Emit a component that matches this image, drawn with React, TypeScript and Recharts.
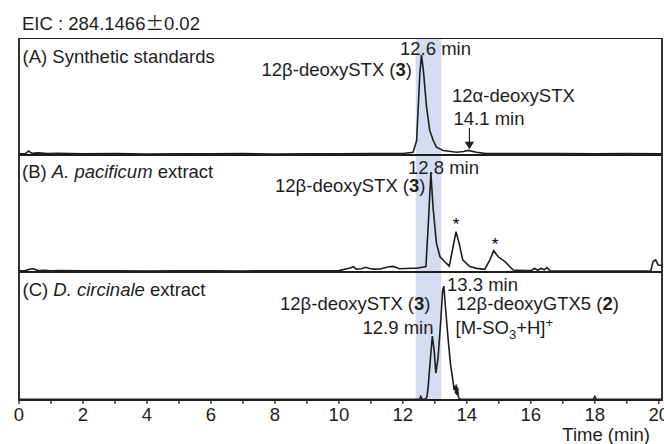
import React from 'react';
import { LineChart, Line, XAxis, YAxis, ReferenceArea, ReferenceLine, ReferenceDot } from 'recharts';

// (A) synthetic standards, relative intensity 0-100 of the panel height
const aTime = [0, 0.2, 0.3, 0.4, 0.6, 0.9, 1.2, 2, 3, 4, 5, 6, 7, 8, 9, 10, 11, 11.5, 12, 12.32, 12.43, 12.48, 12.53, 12.58, 12.64, 12.74, 12.84, 12.95, 13.05, 13.26, 13.68, 13.9, 14.04, 14.3, 14.6, 15, 16, 17, 18, 19, 20.1];
const aSignal = [1, 1.2, 3.5, 1.4, 1.8, 1.2, 1.5, 1, 1.2, 0.9, 1.1, 1, 1.2, 0.9, 1.1, 1, 1.2, 1.3, 1.3, 2.4, 12.4, 41, 69, 85.4, 72.5, 41, 21, 12.4, 6.7, 3.9, 2.4, 3, 3.9, 2.4, 1.2, 1.3, 1.2, 1.3, 1.1, 1.2, 1];

// (B) A. pacificum extract
const bTime = [0, 0.2, 0.35, 0.45, 0.6, 0.8, 1.0, 1.3, 2, 3, 4, 5, 6, 7, 8, 9, 10, 10.35, 10.45, 10.55, 10.7, 10.85, 10.95, 11.1, 11.3, 11.55, 11.7, 11.9, 12.1, 12.3, 12.43, 12.72, 12.79, 12.875, 12.95, 13.05, 13.16, 13.31, 13.45, 13.55, 13.66, 13.76, 13.87, 14.09, 14.3, 14.56, 14.72, 14.84, 14.98, 15.19, 15.45, 15.8, 16.02, 16.12, 16.22, 16.32, 16.42, 16.5, 16.6, 17, 18, 19, 19.75, 19.82, 19.9, 19.98, 20.1];
const bSignal = [1, 1.2, 2.5, 2.8, 1.2, 1.5, 1, 1.3, 1, 1.1, 0.9, 1, 1.1, 0.9, 1, 1.1, 1.2, 3.5, 4.5, 2.5, 2.8, 4, 3, 2.5, 2.6, 4.5, 4.8, 2.8, 3, 3.2, 3.2, 4.6, 38.7, 84.3, 53, 24.5, 13, 8.8, 5.1, 18.8, 34.5, 24.5, 10.3, 4.6, 3.1, 2.3, 10.3, 18.2, 13, 8.8, 1.7, 1.2, 1.5, 3, 1.5, 3.2, 1.8, 3.7, 1, 0.8, 0.8, 0.8, 1, 9, 10.3, 6, 5.5];

// (C) D. circinale extract
const cTime = [0, 2, 4, 6, 8, 10, 12, 12.52, 12.56, 12.6, 12.68, 12.75, 12.79, 12.82, 12.87, 12.92, 12.98, 13.03, 13.1, 13.19, 13.24, 13.28, 13.34, 13.42, 13.49, 13.57, 13.6, 13.63, 13.65, 13.67, 13.69, 13.71, 13.73, 13.76, 13.82, 14, 16, 17.95, 18.0, 18.05, 20.1];
const cSignal = [0.6, 0.6, 0.5, 0.6, 0.5, 0.6, 0.6, 0.6, 2.8, 0.6, 0.5, 2, 10, 19.7, 35, 50, 38, 21, 33, 64, 85, 89, 69.5, 46, 27.6, 14.4, 7.9, 11, 5, 12, 4, 10, 3, 1, 0.6, 0.5, 0.5, 0.5, 2.8, 0.5, 0.5];

const xTicks = [0, 1, 2, 3, 4, 5, 6, 7, 8, 9, 10, 11, 12, 13, 14, 15, 16, 17, 18, 19, 20];

const FONT = '"Liberation Sans", Arial, Helvetica, sans-serif';
const INK = '#1e1e1e';
const BAND = '#d5dcef';
const X_MAX = 20.1;
const FS = 18.5;
const MARGIN = { top: 0, right: 2, bottom: 0, left: 19 };

const toRows = (time: number[], signal: number[]) => time.map((t, i) => ({ t, v: signal[i] }));

interface PanelProps {
  rows: { t: number; v: number }[];
  top: number;
  height: number;
  showAxis?: boolean;
  children?: React.ReactNode;
}

const Panel = ({ rows, top, height, showAxis = false, children }: PanelProps) => (
  <div style={{ position: 'absolute', left: 0, top }}>
    <LineChart width={664} height={height} data={rows} margin={MARGIN}>
      <XAxis
        type="number"
        dataKey="t"
        domain={[0, X_MAX]}
        hide={!showAxis}
        ticks={xTicks}
        interval={0}
        height={44}
        axisLine={false}
        tickSize={4}
        tickMargin={4}
        tickLine={{ stroke: INK, strokeWidth: 1.2 }}
        tick={{ fill: INK, fontSize: FS, fontFamily: FONT }}
        tickFormatter={(v: number) => (v % 2 === 0 ? String(v) : '')}
      />
      <YAxis type="number" domain={[0, 100]} hide />
      <ReferenceArea x1={12.4} x2={13.2} fill={BAND} fillOpacity={1} stroke="none" />
      <Line
        type="linear"
        dataKey="v"
        stroke={INK}
        strokeWidth={1.6}
        dot={false}
        isAnimationActive={false}
      />
      {children}
      <ReferenceArea x1={0} x2={X_MAX} y1={0} y2={100} fill="none" stroke={INK} strokeWidth={1.8} />
    </LineChart>
  </div>
);

const arrowHead = (props: any) => {
  const { cx, cy } = props;
  return <polygon points={`${cx - 4.7},${cy - 7.6} ${cx + 4.7},${cy - 7.6} ${cx},${cy}`} fill={INK} />;
};

export default function App() {
  return (
    <div style={{ position: 'absolute', left: 0, top: 0, width: 664, height: 444, background: '#fff', fontFamily: FONT }}>
      <Panel rows={toRows(aTime, aSignal)} top={38} height={117}>
        <ReferenceLine segment={[{ x: 14.08, y: 23 }, { x: 14.08, y: 10 }]} stroke={INK} strokeWidth={1.2} />
        <ReferenceDot x={14.08} y={4.9} r={0} shape={arrowHead} />
      </Panel>
      <Panel rows={toRows(bTime, bSignal)} top={155} height={117} />
      <Panel rows={toRows(cTime, cSignal)} top={272} height={172} showAxis />

      <svg width={664} height={444} style={{ position: 'absolute', left: 0, top: 0, pointerEvents: 'none' }} fontFamily={FONT} fontSize={FS} fill={INK}>
        <text x={22} y={29.5}>
          EIC : 284.1466<tspan fontFamily='"Noto Sans CJK JP"'>±</tspan>0.02
        </text>

        <text x={22.5} y={63}>(A) Synthetic standards</text>
        <text x={400} y={55}>12.6 min</text>
        <text x={412} y={76} textAnchor="end">
          12β-deoxySTX (<tspan fontWeight="bold">3</tspan>)
        </text>
        <text x={452} y={102}>12α-deoxySTX</text>
        <text x={453.5} y={125}>14.1 min</text>

        <text x={22} y={177.5}>
          (B) <tspan fontStyle="italic">A. pacificum</tspan> extract
        </text>
        <text x={408} y={173.5}>12.8 min</text>
        <text x={425.5} y={191.5} textAnchor="end">
          12β-deoxySTX (<tspan fontWeight="bold">3</tspan>)
        </text>
        <text x={456} y={230} fontSize={17} textAnchor="middle" fill="#000">*</text>
        <text x={495} y={250} fontSize={17} textAnchor="middle" fill="#000">*</text>

        <text x={22.5} y={296}>
          (C) <tspan fontStyle="italic">D. circinale</tspan> extract
        </text>
        <text x={447} y={290.5}>13.3 min</text>
        <text x={430.5} y={309.5} textAnchor="end">
          12β-deoxySTX (<tspan fontWeight="bold">3</tspan>)
        </text>
        <text x={456} y={309.5}>
          12β-deoxyGTX5 (<tspan fontWeight="bold">2</tspan>)
        </text>
        <text x={433.5} y={334} textAnchor="end">12.9 min</text>
        <text x={455.5} y={334}>
          [M-SO<tspan dy={5} fontSize={13}>3</tspan>
          <tspan dy={-5}>+H]</tspan>
          <tspan dy={-7} fontSize={13}>+</tspan>
        </text>

        <text x={650} y={441} textAnchor="end">Time (min)</text>
      </svg>
    </div>
  );
}
